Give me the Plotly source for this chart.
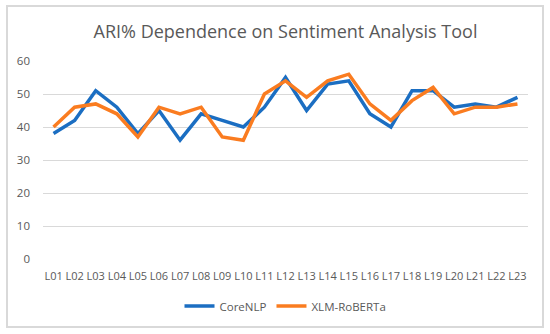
import plotly.graph_objects as go

categories = [f"L{i:02d}" for i in range(1, 24)]
corenlp = [38, 42, 51, 46, 38, 45, 36, 44, 42, 40, 46, 55, 45, 53, 54, 44, 40, 51, 51, 46, 47, 46, 49]
xlm_roberta = [40, 46, 47, 44, 37, 46, 44, 46, 37, 36, 50, 54, 49, 54, 56, 47, 42, 48, 52, 44, 46, 46, 47]
y_ticks = [0, 10, 20, 30, 40, 50, 60]

grey = "#595959"
fig = go.Figure()
fig.add_trace(go.Scatter(x=categories, y=corenlp, mode="lines", name="CoreNLP",
                         line=dict(color="#1B6EC2", width=3.5)))
fig.add_trace(go.Scatter(x=categories, y=xlm_roberta, mode="lines", name="XLM-RoBERTa",
                         line=dict(color="#FA7C20", width=3.5)))

fig.update_layout(
    width=550, height=334,
    margin=dict(l=43, r=22, t=61, b=75, autoexpand=False),
    paper_bgcolor="white", plot_bgcolor="white",
    font=dict(family="Open Sans", color=grey, size=11),
    title=dict(text="ARI% Dependence on Sentiment Analysis Tool", x=0.5, xanchor="center",
               xref="paper",
               y=1 - 32 / 334, yanchor="middle", yref="container",
               font=dict(family="Open Sans", size=18, color=grey)),
    showlegend=True,
    legend=dict(orientation="h", x=0.5, xanchor="center", y=-47 / 198, yanchor="middle",
                font=dict(size=11.5, color=grey), itemwidth=30, tracegroupgap=0),
    xaxis=dict(type="category", range=[-0.5, 22.5], showgrid=False, zeroline=False, showline=False,
               automargin=False,
               ticks="", tickfont=dict(size=11, color=grey), ticklabelstandoff=9, tickangle=0),
    yaxis=dict(range=[0, 60], tickvals=y_ticks, showgrid=True, gridcolor="#d9d9d9", gridwidth=1,
               automargin=False,
               zeroline=False, showline=False, ticks="", tickfont=dict(size=11.5, color=grey),
               ticklabelstandoff=12),
    shapes=[dict(type="rect", xref="paper", yref="paper",
                 x0=-36 / 485, x1=(543 - 43) / 485, y0=-(327 - 259) / 198, y1=1 + (61 - 6) / 198,
                 line=dict(color="#d9d9d9", width=2), layer="below")],
)

fig.write_html("out.html", config={"displayModeBar": False},
               post_script="document.body.style.margin='0';")
